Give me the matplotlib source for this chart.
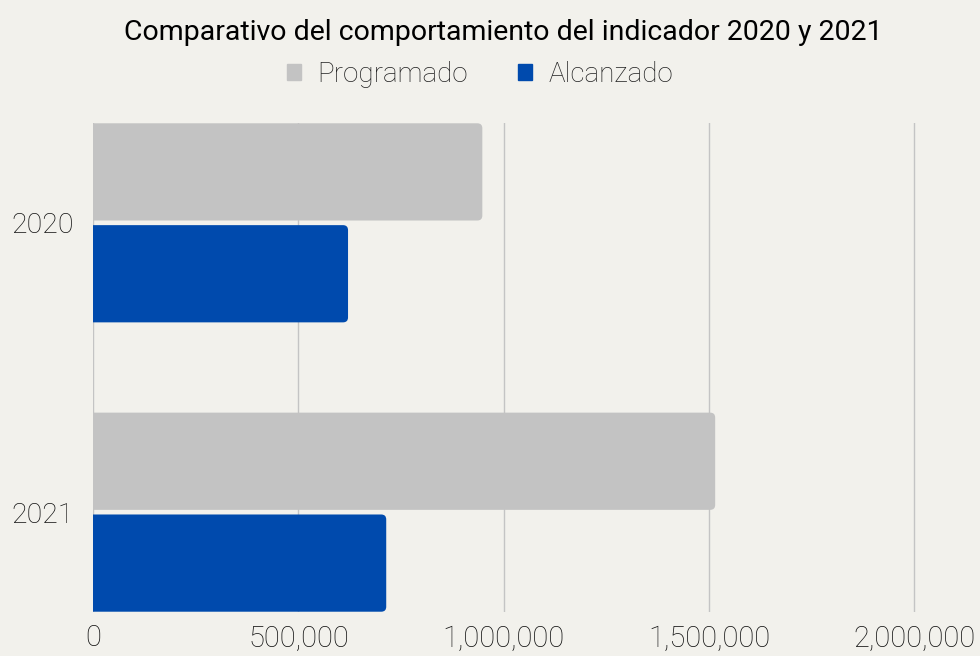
import matplotlib
matplotlib.use("Agg")
import matplotlib.pyplot as plt
from matplotlib.patches import FancyBboxPatch, Patch
import numpy as np

years = ["2020", "2021"]
programado = [948000, 1515000]
alcanzado = [621000, 714000]
xticks = [0, 500000, 1000000, 1500000, 2000000]

bg = "#f2f1ec"
gray = "#c3c3c3"
blue = "#004aad"
font = ["Roboto", "DejaVu Sans"]

fig = plt.figure(figsize=(9.8, 6.56), dpi=100, facecolor=bg)
ax = fig.add_axes([93 / 980, 1 - 612 / 656, (916 - 93) / 980, (612 - 123) / 656])
ax.set_facecolor(bg)

y = np.arange(len(years))
h = 0.336
off = 0.176
b1 = ax.barh(y - off, programado, height=h, color=gray)
b2 = ax.barh(y + off, alcanzado, height=h, color=blue)

ax.set_xlim(0, 2004000)
ax.set_ylim(1.345, -0.345)

# rounded ends: swap bars for fancy boxes
fig.canvas.draw()
px_x = 2004000 / ax.bbox.width
px_y = 1.69 / ax.bbox.height
r = 5 * px_x
for bars in (b1, b2):
    for p in bars:
        p.set_visible(False)
        fb = FancyBboxPatch((-2 * r, p.get_y()), p.get_width() + 2 * r, p.get_height(),
                            boxstyle=f"round,pad=0,rounding_size={r}",
                            mutation_aspect=px_y / px_x,
                            facecolor=p.get_facecolor(), edgecolor="none", zorder=2)
        ax.add_patch(fb)

ax.set_xticks(xticks)
ax.set_xticklabels([f"{v:,}" for v in xticks], fontfamily=font, fontweight="light",
                   fontsize=21, color="#111111")
ax.set_yticks(y)
ax.set_yticklabels(years, fontfamily=font, fontweight="light", fontsize=20.5, color="#111111")
ax.tick_params(axis="x", length=0, pad=9)
ax.tick_params(axis="y", length=0, pad=14)
ax.grid(axis="x", color="#c4c4c4", linewidth=1)
ax.set_axisbelow(True)
for s in ax.spines.values():
    s.set_visible(False)

fig.text(503 / 980, 1 - 32 / 656, "Comparativo del comportamiento del indicador 2020 y 2021",
         ha="center", va="center", fontfamily=font, fontweight="normal", fontsize=20.5,
         color="black")
handles = [Patch(color=gray), Patch(color=blue)]
fig.legend(handles=handles, labels=["Programado", "Alcanzado"], loc="center",
           bbox_to_anchor=(480 / 980, 1 - 74 / 656), ncol=2, frameon=False,
           prop={"family": font, "size": 20, "weight": "light"},
           handlelength=0.5, handleheight=0.5,
           columnspacing=1.8, handletextpad=0.6, labelcolor="#222222")

fig.savefig("out.png", dpi=100, facecolor=bg)
